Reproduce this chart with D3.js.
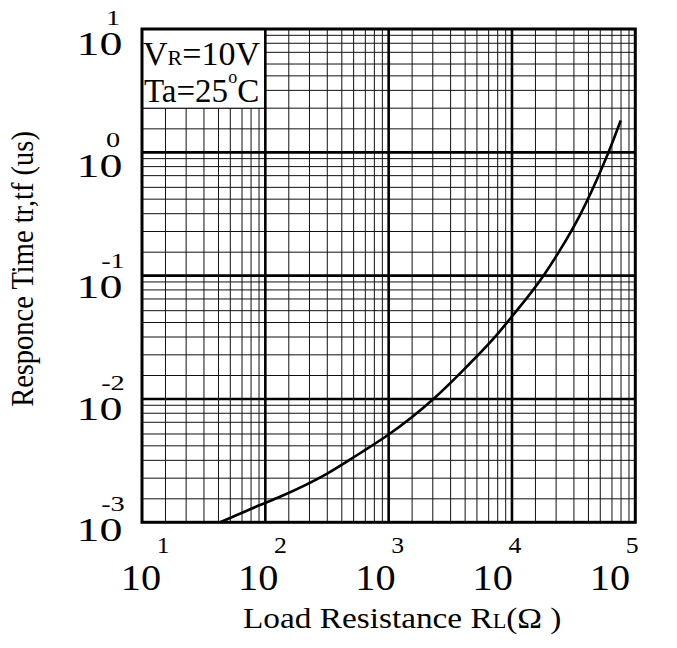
<!DOCTYPE html>
<html>
<head>
<meta charset="utf-8">
<script src="https://cdn.jsdelivr.net/npm/d3@7"></script>
<style>
  html, body { margin: 0; padding: 0; background: #fff; }
  svg { display: block; }
  text { font-family: "Liberation Serif", "Times New Roman", serif; fill: #000; }
</style>
</head>
<body>
<svg id="chart" width="677" height="648"></svg>
<script>
// ---- data ----
const resistance   = [43, 90.6, 131.5, 315, 586, 1007, 2307, 4300, 7530, 9950, 18000, 24500, 35600, 53500, 66400, 76200];
const responseTime = [0.001, 0.00138, 0.00161, 0.00247, 0.00363, 0.00517, 0.01, 0.0183, 0.0331, 0.0464, 0.1, 0.161, 0.31, 0.743, 1.26, 1.81];
const xDecades = [10, 100, 1000, 10000, 100000];
const yDecades = [0.001, 0.01, 0.1, 1, 10];
const minorSteps = [1.55, 2.28, 3.18, 4.17, 5.2, 6.47, 7.66, 8.89];
const xTickExp = ["1", "2", "3", "4", "5"];
const yTickExp = ["-3", "-2", "-1", "0", "1"];
const legendLine1 = ["V", "R", "=10V"];
const legendLine2 = ["Ta=25", "o", "C"];
const xTitle = ["Load Resistance R", "L", "(\u03A9 )"];
const yTitle = "Responce Time tr,tf (us)";

// ---- layout ----
const FONT = "'Liberation Serif', 'Times New Roman', serif";
const svg = d3.select("#chart");
const pL = 142, pR = 635.3, pT = 29, pB = 522.3;
const x = d3.scaleLog().domain([10, 1e5]).range([pL, pR]);
const y = d3.scaleLog().domain([1e-3, 10]).range([pB, pT]);
const xLabelScale = d3.scaleLog().domain([10, 1e5]).range([141, 610]);
const yLabelScale = d3.scaleLog().domain([1e-3, 10]).range([541, 55]);

const minorX = [];
xDecades.slice(0, -1).forEach(d => minorSteps.forEach(m => minorX.push(d * m)));
const minorY = [];
yDecades.slice(0, -1).forEach(d => minorSteps.forEach(m => minorY.push(d * m)));

const g = svg.append("g");

// minor grid
g.selectAll(".mx").data(minorX).enter().append("line")
  .attr("x1", d => x(d)).attr("x2", d => x(d))
  .attr("y1", pT).attr("y2", pB)
  .attr("stroke", "#111").attr("stroke-width", 1);
g.selectAll(".my").data(minorY).enter().append("line")
  .attr("y1", d => y(d)).attr("y2", d => y(d))
  .attr("x1", pL).attr("x2", pR)
  .attr("stroke", "#111").attr("stroke-width", 1);

// legend box (hides grid)
g.append("rect")
  .attr("x", x(10)).attr("y", y(10))
  .attr("width", x(100) - x(10)).attr("height", y(2.28) - y(10))
  .attr("fill", "#fff").attr("stroke", "#000").attr("stroke-width", 1);

// major grid
g.selectAll(".Mx").data(xDecades.slice(1, -1)).enter().append("line")
  .attr("x1", d => x(d)).attr("x2", d => x(d))
  .attr("y1", pT).attr("y2", pB)
  .attr("stroke", "#000").attr("stroke-width", 2.6);
g.selectAll(".My").data(yDecades.slice(1, -1)).enter().append("line")
  .attr("y1", d => y(d)).attr("y2", d => y(d))
  .attr("x1", pL).attr("x2", pR)
  .attr("stroke", "#000").attr("stroke-width", 2.6);

// frame
g.append("rect")
  .attr("x", pL).attr("y", pT)
  .attr("width", pR - pL).attr("height", pB - pT)
  .attr("fill", "none").attr("stroke", "#000").attr("stroke-width", 3);

// curve
const pts = resistance.map((r, i) => [r, responseTime[i]]);
g.append("path")
  .datum(pts)
  .attr("fill", "none").attr("stroke", "#000").attr("stroke-width", 2.6)
  .attr("d", d3.line().x(d => x(d[0])).y(d => y(d[1])).curve(d3.curveMonotoneX));

// legend text
const l1 = g.append("text").attr("x", 143).attr("y", 65).attr("font-family", FONT);
l1.append("tspan").attr("font-size", 34).text(legendLine1[0]);
l1.append("tspan").attr("font-size", 22).text(legendLine1[1]);
l1.append("tspan").attr("font-size", 34).text(legendLine1[2]);
const l2 = g.append("text").attr("x", 144).attr("y", 101.7).attr("font-family", FONT);
l2.append("tspan").attr("font-size", 33).text(legendLine2[0]);
l2.append("tspan").attr("font-size", 18).attr("dy", -19).text(legendLine2[1]);
l2.append("tspan").attr("font-size", 33).attr("dy", 19).text(legendLine2[2]);

// x tick labels
xDecades.forEach((d, i) => {
  const t = svg.append("g").attr("transform", `translate(${xLabelScale(d)},590) scale(1.12,1)`);
  t.append("text").attr("text-anchor", "middle").attr("font-family", FONT).attr("font-size", 36).text("10");
  t.append("text").attr("x", 14).attr("y", -37).attr("font-family", FONT).attr("font-size", 23).text(xTickExp[i]);
});

// y tick labels
yDecades.forEach((d, i) => {
  const t = svg.append("g").attr("transform", `translate(99.5,${yLabelScale(d)}) scale(1.35,1)`);
  t.append("text").attr("text-anchor", "middle").attr("font-family", FONT).attr("font-size", 34).text("10");
  t.append("text").attr("x", 10).attr("y", -30).attr("text-anchor", "middle").attr("font-family", FONT).attr("font-size", 21).text(yTickExp[i]);
});

// x title
const xt = svg.append("g").attr("transform", "translate(243,628) scale(1.11,1)")
  .append("text").attr("font-family", FONT);
xt.append("tspan").attr("font-size", 30).text(xTitle[0]);
xt.append("tspan").attr("font-size", 20).text(xTitle[1]);
xt.append("tspan").attr("font-size", 30).text(xTitle[2]);

// y title
svg.append("g").attr("transform", "translate(33,269) scale(1.1,1) rotate(-90)")
  .append("text").attr("text-anchor", "middle").attr("font-family", FONT).attr("font-size", 28.5).text(yTitle);
</script>
</body>
</html>
